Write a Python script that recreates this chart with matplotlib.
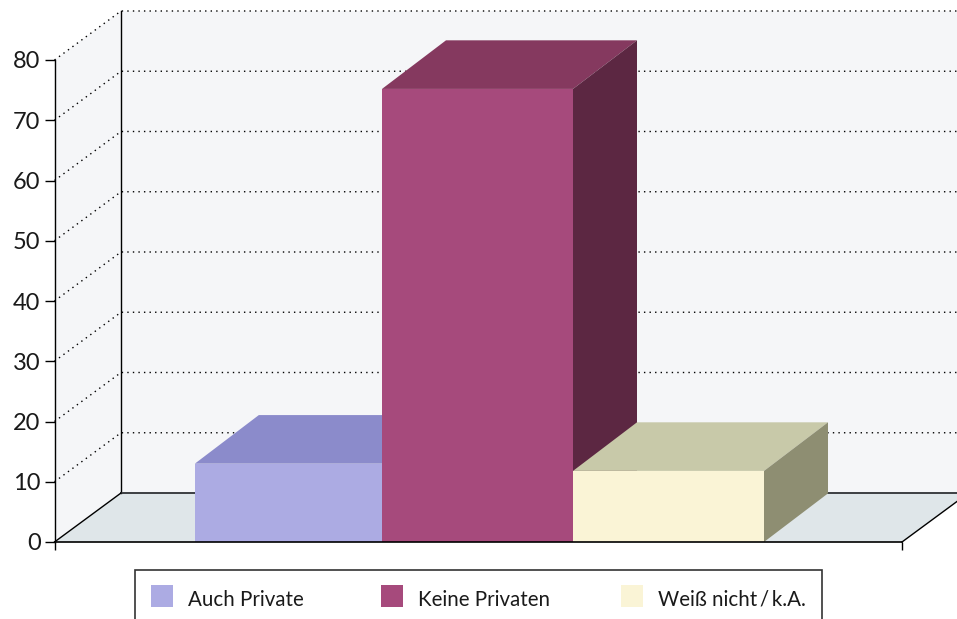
import matplotlib.pyplot as plt
from matplotlib.patches import Rectangle

categories = ["Auch Private", "Keine Privaten", "Weiß nicht\u2009/\u2009k.A."]
values = [13.0, 75.2, 11.8]
y_ticks = [0, 10, 20, 30, 40, 50, 60, 70, 80]

front_colors = ["#acabe3", "#a64a7c", "#faf4d6"]
top_colors = ["#8b8bcb", "#85395f", "#c8c9a9"]
side_colors = ["#6c6ca0", "#5c2742", "#8e8e72"]
bar_widths = [0.98, 1.0, 1.0]

W = 957
H = 619
FONT = ["Lato", "DejaVu Sans"]

# one category is 191 px wide, one y unit is about 6.03 px
X0 = -1.2147
X1 = 3.2225
WALL_DX = 66.5 / 191
WALL_DY = 49 / 6.025
BAR_DX = 64 / 191
BAR_DY = 48.6 / 6.025

fig = plt.figure(figsize=(W / 100, H / 100), dpi=100)
ax = fig.add_axes([54.5 / W, 1 - 542 / H, (902 - 54.5) / W, (542 - 60) / H])
ax.set_xlim(X0, X1)
ax.set_ylim(0, 80)
ax.patch.set_alpha(0)

wall = "#f5f6f8"
floor = "#dfe6e9"
top = 80 + WALL_DY

# walls and floor
ax.fill([X0, X0 + WALL_DX, X0 + WALL_DX, X0], [0, WALL_DY, top, 80], color=wall, lw=0, zorder=0, clip_on=False)
ax.fill([X0 + WALL_DX, X1 + WALL_DX, X1 + WALL_DX, X0 + WALL_DX], [WALL_DY, WALL_DY, top, top], color=wall, lw=0, zorder=0, clip_on=False)
ax.fill([X0, X1, X1 + WALL_DX, X0 + WALL_DX], [0, 0, WALL_DY, WALL_DY], color=floor, lw=0, zorder=0, clip_on=False)

# dotted grid
for t in y_ticks[1:]:
	ax.plot([X0, X0 + WALL_DX, X1 + WALL_DX], [t, t + WALL_DY, t + WALL_DY], color="black", lw=1, ls=(0, (1, 3)), zorder=1, clip_on=False)

# frame lines at the back
ax.plot([X0 + WALL_DX, X0 + WALL_DX], [WALL_DY, top], color="black", lw=1, zorder=1, clip_on=False)
ax.plot([X0 + WALL_DX, X1 + WALL_DX], [WALL_DY, WALL_DY], color="#3c3f42", lw=1.4, zorder=1, clip_on=False)
ax.plot([X0, X0 + WALL_DX], [0, WALL_DY], color="black", lw=1, zorder=1, clip_on=False)
ax.plot([X1, X1 + WALL_DX], [0, WALL_DY], color="black", lw=1, zorder=1, clip_on=False)

# bars, left to right so that each covers the one before
for i in range(len(values)):
	right = i + 0.5
	left = right - bar_widths[i]
	v = values[i]
	z = 2 + i * 0.1
	ax.bar(left, v, width=bar_widths[i], align="edge", color=front_colors[i], lw=0, zorder=z + 0.02)
	ax.fill([left, right, right + BAR_DX, left + BAR_DX], [v, v, v + BAR_DY, v + BAR_DY], color=top_colors[i], lw=0, zorder=z, clip_on=False)
	ax.fill([right, right + BAR_DX, right + BAR_DX, right], [0, BAR_DY, v + BAR_DY, v], color=side_colors[i], lw=0, zorder=z, clip_on=False)

ax.spines["top"].set_visible(False)
ax.spines["right"].set_visible(False)
ax.spines["left"].set_color("black")
ax.spines["bottom"].set_color("black")
ax.spines["left"].set_linewidth(1)
ax.spines["bottom"].set_linewidth(1.2)
ax.set_yticks(y_ticks)
ax.set_yticklabels([str(t) for t in y_ticks], fontsize=17, family=FONT, color="#1a1a1a", va="center_baseline")
ax.set_xticks([X0, X1])
ax.set_xticklabels(["", ""])
ax.tick_params(axis="y", length=7, width=1, pad=3)
ax.tick_params(axis="x", length=6, width=1)

# legend, its box runs off the bottom of the picture
fig.add_artist(Rectangle((135 / W, 1 - 640 / H), (822 - 135) / W, 70 / H, transform=fig.transFigure, fill=False, edgecolor="#333333", lw=1.2))
swatch_x = [151, 381, 621]
for i in range(len(categories)):
	fig.add_artist(Rectangle((swatch_x[i] / W, 1 - 607 / H), 22 / W, 22 / H, transform=fig.transFigure, facecolor=front_colors[i], lw=0))
	fig.text((swatch_x[i] + 36.5) / W, 1 - 606 / H, categories[i], fontsize=14.8, family=FONT, color="#1a1a1a", va="baseline", ha="left")

plt.savefig("out.png", dpi=100)
plt.close()
